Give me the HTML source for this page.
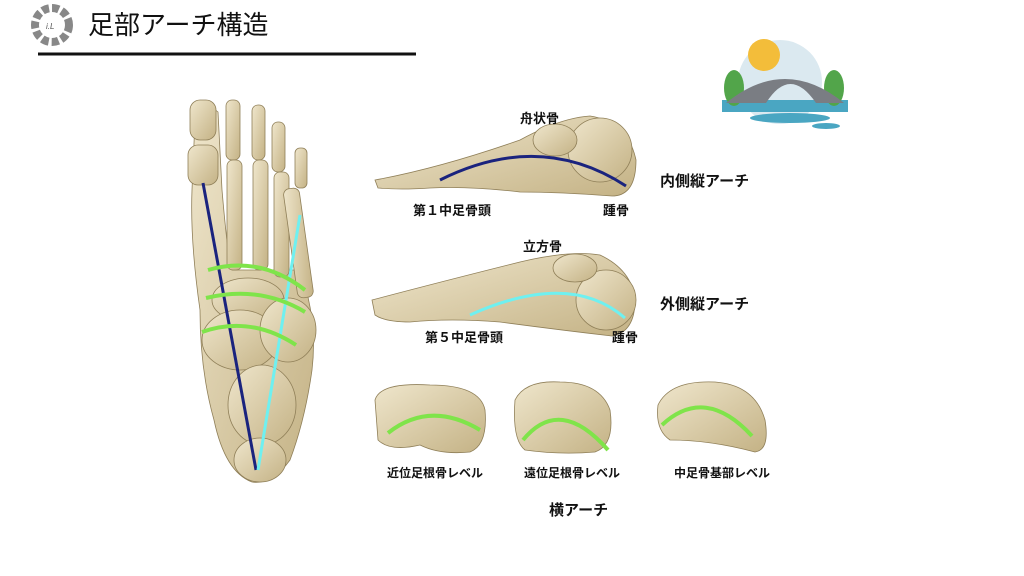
<!DOCTYPE html>
<html><head><meta charset="utf-8"><style>
body{margin:0;width:1024px;height:576px;background:#fff;overflow:hidden;position:relative;font-family:"Liberation Sans","Noto Sans CJK JP",sans-serif}
.t{position:absolute;font-weight:bold;font-size:13px;color:#111;white-space:nowrap}
</style></head><body>
<svg width="1024" height="576" style="position:absolute;left:0;top:0">
<defs>
<linearGradient id="b" x1="0" y1="0" x2="1" y2="1"><stop offset="0" stop-color="#efe6cc"/><stop offset="1" stop-color="#c4b285"/></linearGradient>
</defs>
<g transform="translate(52,25)">
<circle r="17" fill="none" stroke="#888" stroke-width="8" stroke-dasharray="7 3"/>
<text x="-6" y="4" font-size="8" fill="#555" font-style="italic">i.L</text>
</g>
<line x1="38" y1="54" x2="416" y2="54" stroke="#111" stroke-width="3"/>
<!-- bridge -->
<circle cx="780" cy="82" r="42" fill="#dbe9f0"/>
<circle cx="764" cy="55" r="16" fill="#f3bd3a"/>
<rect x="722" y="100" width="126" height="12" fill="#4aa6c2"/>
<ellipse cx="790" cy="118" rx="40" ry="5" fill="#4aa6c2"/>
<ellipse cx="826" cy="126" rx="14" ry="3" fill="#4aa6c2"/>
<ellipse cx="734" cy="88" rx="10" ry="18" fill="#52a54a"/>
<ellipse cx="834" cy="88" rx="10" ry="18" fill="#52a54a"/>
<path d="M726 103 Q785 55 844 103 L816 103 Q790 65 766 103Z" fill="#7a7d83"/>
<!-- foot dorsal -->
<g fill="url(#b)" stroke="#8f7f58" stroke-width="0.8">
<path d="M195 120 Q205 100 218 112 L222 190 Q228 260 232 270 L300 270 Q318 320 312 370 Q305 420 290 460 Q272 485 252 482 Q225 472 214 420 Q200 370 200 310 Q190 240 192 190Z"/>
<rect x="190" y="100" width="26" height="40" rx="10"/>
<rect x="188" y="145" width="30" height="40" rx="10"/>
<rect x="226" y="100" width="14" height="60" rx="6"/>
<rect x="227" y="160" width="15" height="110" rx="6"/>
<rect x="252" y="105" width="13" height="55" rx="6"/>
<rect x="253" y="160" width="15" height="110" rx="6"/>
<rect x="272" y="122" width="13" height="50" rx="6"/>
<rect x="274" y="172" width="15" height="105" rx="6"/>
<rect x="295" y="148" width="12" height="40" rx="5"/>
<rect x="290" y="188" width="16" height="110" rx="6" transform="rotate(-8 298 240)"/>
<ellipse cx="248" cy="300" rx="36" ry="22"/>
<ellipse cx="240" cy="340" rx="38" ry="30"/>
<ellipse cx="288" cy="330" rx="28" ry="32"/>
<ellipse cx="262" cy="405" rx="34" ry="40"/>
<ellipse cx="260" cy="460" rx="26" ry="22"/>
</g>
<line x1="203" y1="183" x2="256" y2="470" stroke="#1a237e" stroke-width="3"/>
<line x1="300" y1="215" x2="258" y2="470" stroke="#6ff0f0" stroke-width="3"/>
<g fill="none" stroke="#7fe44a" stroke-width="4">
<path d="M208 270 Q260 255 305 290"/>
<path d="M206 298 Q260 285 305 312"/>
<path d="M202 332 Q250 315 296 345"/>
</g>
<!-- medial view -->
<g fill="url(#b)" stroke="#8f7f58" stroke-width="0.8">
<path d="M375 180 Q440 168 520 140 Q560 118 590 116 Q628 122 636 160 Q636 196 612 196 Q560 192 520 192 Q470 186 430 188 Q400 190 378 188Z"/>
<ellipse cx="600" cy="150" rx="32" ry="32"/>
<ellipse cx="555" cy="140" rx="22" ry="16"/>
</g>
<path d="M440 180 Q540 130 626 186" fill="none" stroke="#1a237e" stroke-width="3"/>
<!-- lateral view -->
<g fill="url(#b)" stroke="#8f7f58" stroke-width="0.8">
<path d="M372 300 Q440 282 520 262 Q570 250 600 255 Q632 270 635 300 Q635 332 612 336 Q560 330 500 322 Q450 318 410 322 Q385 322 375 315Z"/>
<ellipse cx="606" cy="300" rx="30" ry="30"/>
<ellipse cx="575" cy="268" rx="22" ry="14"/>
</g>
<path d="M470 315 Q570 270 625 318" fill="none" stroke="#6ff0f0" stroke-width="3"/>
<!-- transverse -->
<g fill="url(#b)" stroke="#8f7f58" stroke-width="0.8">
<path d="M375 400 Q380 382 430 385 Q480 385 485 410 Q488 445 470 452 Q440 455 420 445 Q390 452 378 440Z"/>
<path d="M515 400 Q525 380 560 382 Q600 382 610 410 Q615 445 595 452 Q560 455 525 450 Q512 440 515 400Z"/>
<path d="M658 405 Q670 380 715 382 Q755 385 765 420 Q770 450 755 452 Q710 440 670 440 Q655 430 658 405Z"/>
</g>
<g fill="none" stroke="#7fe44a" stroke-width="4">
<path d="M388 433 Q430 400 480 430"/>
<path d="M523 440 Q560 395 608 450"/>
<path d="M662 425 Q705 385 752 436"/>
</g>
</svg>
<div style="position:absolute;left:88px;top:5px;font-size:26px;color:#111">足部アーチ構造</div>
<div class="t" style="left:520px;top:108px">舟状骨</div>
<div class="t" style="left:660px;top:170px;font-size:15px">内側縦アーチ</div>
<div class="t" style="left:413px;top:200px">第１中足骨頭</div>
<div class="t" style="left:603px;top:200px">踵骨</div>
<div class="t" style="left:523px;top:236px">立方骨</div>
<div class="t" style="left:660px;top:293px;font-size:15px">外側縦アーチ</div>
<div class="t" style="left:425px;top:327px">第５中足骨頭</div>
<div class="t" style="left:612px;top:327px">踵骨</div>
<div class="t" style="left:387px;top:464px;font-size:12px">近位足根骨レベル</div>
<div class="t" style="left:524px;top:464px;font-size:12px">遠位足根骨レベル</div>
<div class="t" style="left:674px;top:464px;font-size:12px">中足骨基部レベル</div>
<div class="t" style="left:549px;top:499px;font-size:15px">横アーチ</div>
</body></html>
